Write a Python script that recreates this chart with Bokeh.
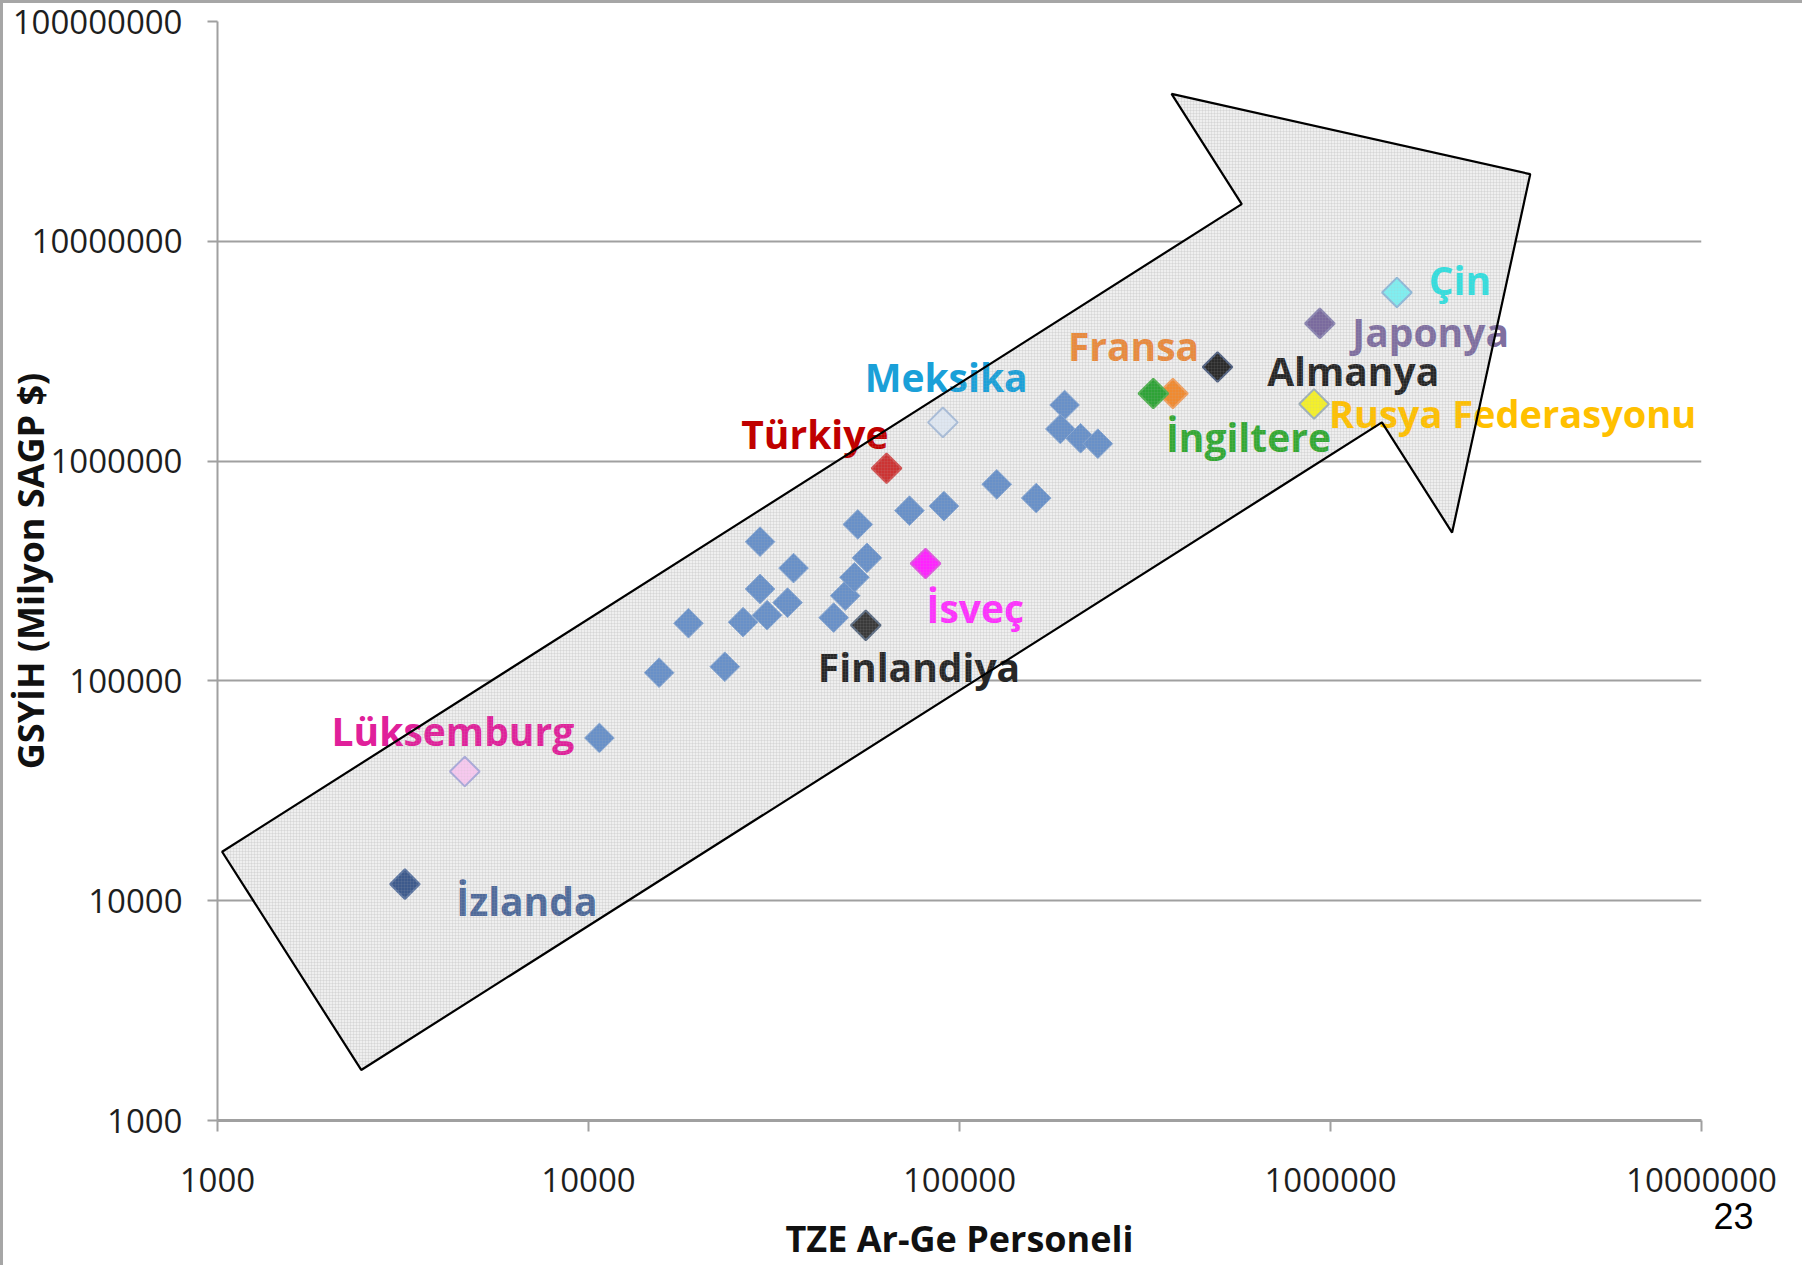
import numpy as np
from bokeh.plotting import figure
from bokeh.models import ColumnDataSource, FixedTicker, LabelSet, Label
from bokeh.core.properties import value
from bokeh.embed import file_html
from bokeh.resources import INLINE

# ---- data: unnamed OECD countries (blue diamonds) ----
other_x = [10700, 15500, 23300, 18600, 26100, 30300, 34400, 29000, 35700, 29000,
           45800, 49200, 52100, 56300, 53200, 73300, 90800, 126000, 161000,
           192000, 187000, 212000, 236000]
other_y = [55000, 109000, 116000, 183000, 185000, 199000, 227000, 262000, 326000, 430000,
           194000, 244000, 296000, 363000, 515000, 595000, 624000, 784000, 679000,
           1800000, 1400000, 1270000, 1200000]

# ---- highlighted countries ----
country_names = ["İzlanda", "Lüksemburg", "Finlandiya", "İsveç", "Türkiye", "Meksika",
                 "Fransa", "İngiltere", "Almanya", "Rusya Federasyonu", "Japonya", "Çin"]
country_x = [3200, 4640, 55900, 81000, 63600, 90200, 376000, 333000, 496000, 903000, 936000, 1510000]
country_y = [11900, 38700, 179000, 342000, 928000, 1500000, 2030000, 2030000, 2680000,
             1820000, 4230000, 5850000]
marker_fill = ["#3d5a8c", "#f6c9ee", "#3a3a3a", "#ff22ff", "#cc3333", "#dfe7f1",
               "#f08a30", "#2ea336", "#2b2b2b", "#f4f02a", "#7a6a9e", "#80eef0"]
marker_line = ["#5a74a0", "#a9a9d9", "#5a6a80", "#e050e0", "#d05050", "#a8bcd8",
               "#f0a060", "#50b050", "#506080", "#9fb0b8", "#8a84b0", "#8fb8d8"]

# label anchors (left edge, vertical middle) in data units
label_text = ["İzlanda", "Lüksemburg", "Finlandiya", "İsveç", "Türkiye", "Meksika",
              "Fransa", "İngiltere", "Almanya", "Rusya Federasyonu", "Japonya", "Çin"]
label_x = [4400, 2030, 41500, 81500, 25800, 55500, 196000, 360000, 675000, 990000, 1145000, 1840000]
label_y = [10070, 59760, 116000, 216000, 1330000, 2430000, 3360000, 1300000, 2580000,
           1650000, 3880000, 6680000]
label_color = ["#4f6a9a", "#e0209a", "#262626", "#ff30ff", "#c00000", "#1aa0d8",
               "#e98a3d", "#33a833", "#262626", "#ffc000", "#7f6fa0", "#33dede"]
label_size = ["39px"] * 9 + ["38px"] + ["39px"] * 2

# trend arrow outline (data units)
arrow_x = [1029, 576400, 372900, 3454000, 2127000, 1376000, 2440]
arrow_y = [16700, 14770000, 46860000, 20200000, 473000, 1500000, 1698]

x_ticks = [1000, 10000, 100000, 1000000, 10000000]
x_tick_labels = ["1000", "10000", "100000", "1000000", "10000000"]
y_ticks = [1000, 10000, 100000, 1000000, 10000000, 100000000]
y_tick_labels = ["1000", "10000", "100000", "1000000", "10000000", "100000000"]

# ---- figure ----
p = figure(x_axis_type="log", y_axis_type="log",
           x_range=(1000, 10000000), y_range=(1000, 100000000),
           width=1802, height=1265,
           min_border_left=217, min_border_right=101, min_border_top=21, min_border_bottom=145,
           output_backend="svg", toolbar_location=None,
           background_fill_color="white", border_fill_color=None)
p.outline_line_color = None
# thin grey slide edges (top and left)
p.styles = {"box-shadow": "inset 3px 3px 0 #a6a6a6", "background-color": "white"}

p.xaxis.ticker = FixedTicker(ticks=x_ticks, minor_ticks=[])
p.yaxis.ticker = FixedTicker(ticks=y_ticks, minor_ticks=[])
p.xaxis.major_label_overrides = {t: s for t, s in zip(x_ticks, x_tick_labels)}
p.yaxis.major_label_overrides = {t: s for t, s in zip(y_ticks, y_tick_labels)}

for ax in (p.xaxis[0], p.yaxis[0]):
    ax.axis_line_color = "#a0a0a0"
    ax.major_tick_line_color = "#a0a0a0"
    ax.major_tick_line_width = 2
    ax.minor_tick_line_color = None
    ax.major_tick_in = 0
    ax.major_label_text_font = "Open Sans"
    ax.major_label_text_font_size = "33px"
    ax.major_label_text_color = "#1e1e1e"
    ax.axis_label_text_font = "Open Sans"
    ax.axis_label_text_font_style = "bold"
    ax.axis_label_text_font_size = "36px"
    ax.axis_label_text_color = "#111111"

p.xaxis.axis_line_width = 3
p.yaxis.axis_line_width = 2
p.xaxis.major_tick_out = 11
p.yaxis.major_tick_out = 10
p.xaxis.major_label_standoff = 36
p.yaxis.major_label_standoff = 25
p.xaxis.axis_label = "TZE Ar-Ge Personeli"
p.yaxis.axis_label = "GSYİH (Milyon SAGP $)"
p.xaxis.axis_label_standoff = 19
p.yaxis.axis_label_standoff = -45

p.xgrid.grid_line_color = None
p.ygrid.grid_line_color = "#a0a0a0"
p.ygrid.grid_line_width = 2

# arrow fill (under the points)
p.patch(arrow_x, arrow_y, fill_color="#efefef", line_color=None,
        hatch_pattern="+", hatch_color="#d9d9d9", hatch_scale=3, hatch_weight=0.5)

# points
p.scatter(other_x, other_y, marker="square", angle=np.pi / 4, size=21,
          fill_color="#6890c8", line_color="#86a6d2", line_width=1)

src = ColumnDataSource(dict(x=country_x, y=country_y, fill=marker_fill, line=marker_line))
p.scatter("x", "y", source=src, marker="square", angle=np.pi / 4, size=21,
          fill_color="fill", line_color="line", line_width=2)

lab_src = ColumnDataSource(dict(x=label_x, y=label_y, text=label_text, color=label_color,
                                size=label_size))
labels = LabelSet(x="x", y="y", text="text", source=lab_src, text_color="color",
                  text_font=value("Open Sans"), text_font_style="bold", text_font_size="size",
                  text_align="left", text_baseline="middle")
p.add_layout(labels)

# arrow outline on top of everything
p.patch(arrow_x, arrow_y, fill_color=None, line_color="black", line_width=2.2,
        hatch_pattern="+", hatch_color="#bbbbbb", hatch_alpha=0.2, hatch_scale=3,
        hatch_weight=0.5, level="overlay")

# slide page number, in the right side panel (screen units from the panel's bottom-left)
p.add_layout(Label(x=32, y=-95, x_units="screen", y_units="screen", text="23",
                   text_font="Liberation Sans", text_font_size="36px", text_color="black",
                   text_align="center", text_baseline="middle"), "right")

open("out.html", "w").write(file_html(p, INLINE))
